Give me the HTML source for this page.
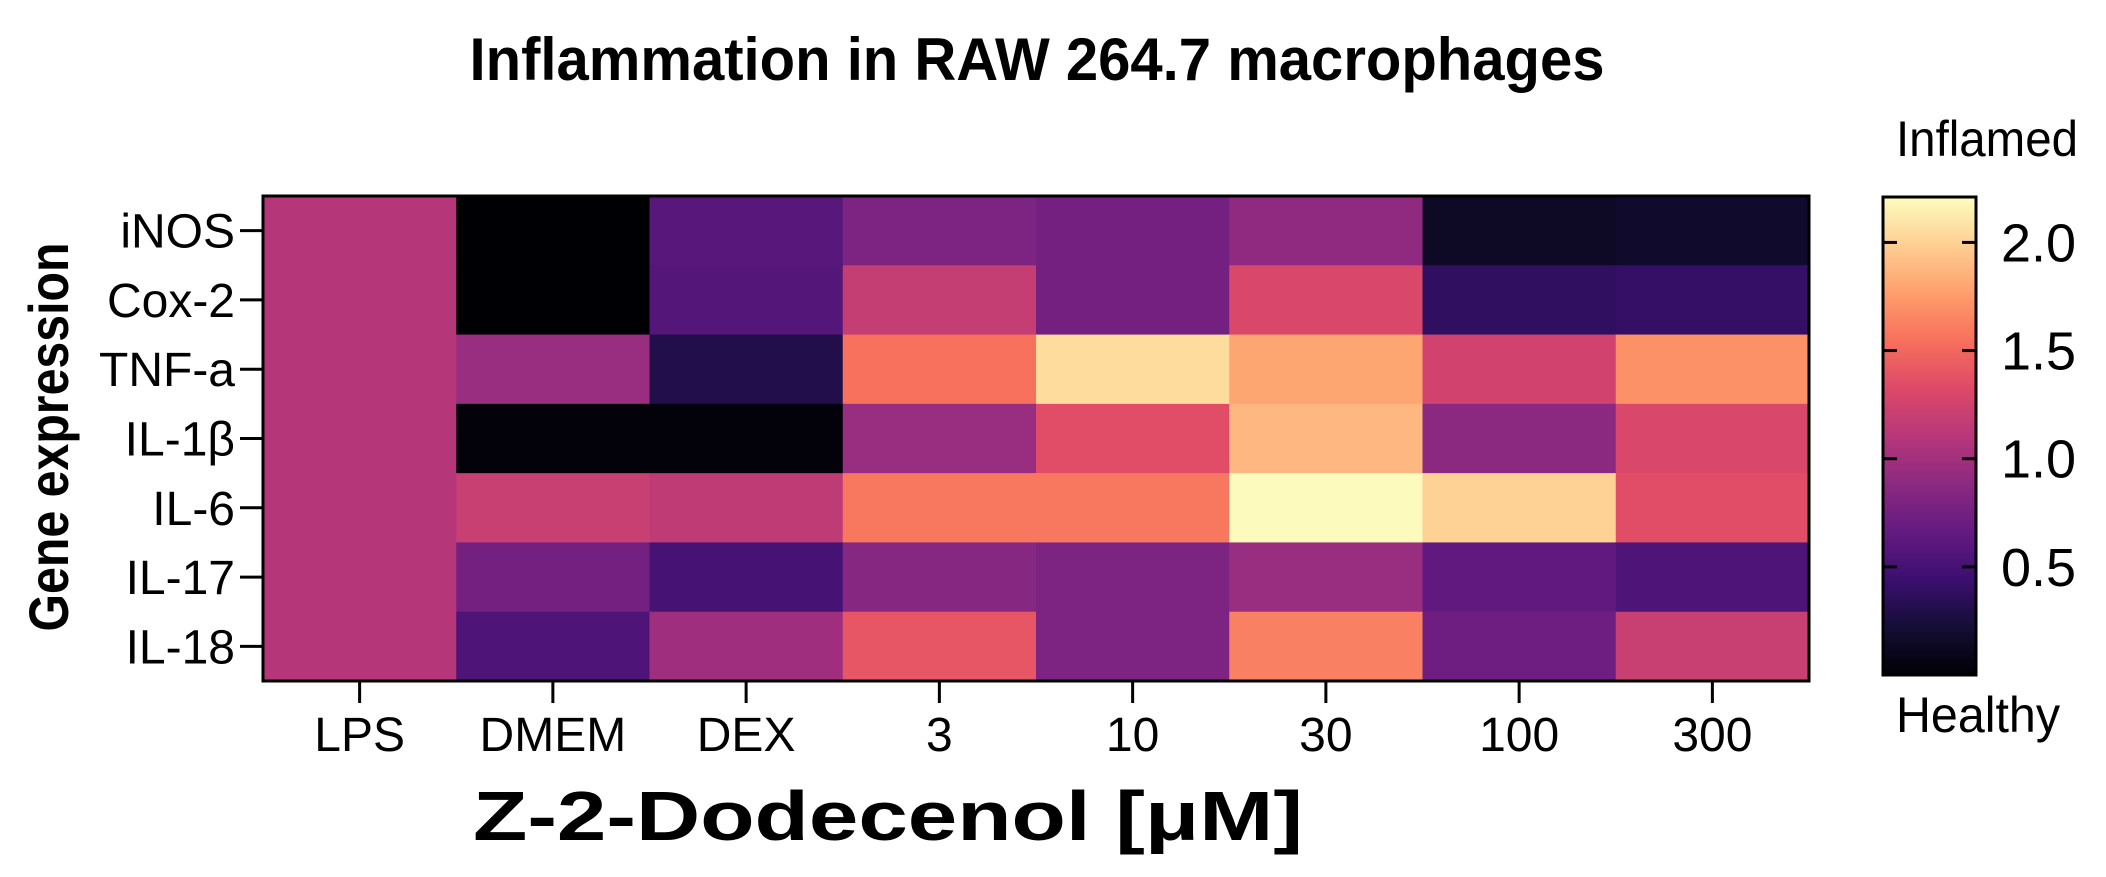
<!DOCTYPE html>
<html><head><meta charset="utf-8"><style>
html,body{margin:0;padding:0;background:#fff;}
svg{display:block;font-family:"Liberation Sans",Arial,sans-serif;}
</style></head><body>
<svg id="chart" width="2106" height="877" viewBox="0 0 2106 877">
<defs><linearGradient id="magma" x1="0" y1="1" x2="0" y2="0">
<stop offset="0" stop-color="#000004"/><stop offset="0.1" stop-color="#140e36"/><stop offset="0.2" stop-color="#3b0f70"/><stop offset="0.3" stop-color="#641a80"/><stop offset="0.4" stop-color="#8c2981"/><stop offset="0.5" stop-color="#b73779"/><stop offset="0.6" stop-color="#de4968"/><stop offset="0.7" stop-color="#f7705c"/><stop offset="0.8" stop-color="#fe9f6d"/><stop offset="0.9" stop-color="#fecf92"/><stop offset="1" stop-color="#fcfdbf"/>
</linearGradient></defs>
<text x="1037" y="80" font-size="60" font-weight="bold" text-anchor="middle" textLength="1135" lengthAdjust="spacingAndGlyphs">Inflammation in RAW 264.7 macrophages</text>
<text transform="translate(68,437) rotate(-90)" font-size="56" font-weight="bold" text-anchor="middle" textLength="389" lengthAdjust="spacingAndGlyphs">Gene expression</text>
<text x="888" y="840" font-size="70" font-weight="bold" text-anchor="middle" textLength="830" lengthAdjust="spacingAndGlyphs">Z-2-Dodecenol [μM]</text>
<g id="cells"></g><g id="axes"></g><g id="cbar"></g>
</svg>
<script>
const categories = ["LPS","DMEM","DEX","3","10","30","100","300"];
const genes = ["iNOS","Cox-2","TNF-a","IL-1β","IL-6","IL-17","IL-18"];
const iNOS  = [1.1, 0.0, 0.60, 0.80, 0.75, 0.90, 0.15, 0.18];
const cox2  = [1.1, 0.0, 0.58, 1.18, 0.75, 1.30, 0.38, 0.40];
const tnfa  = [1.1, 0.95, 0.30, 1.55, 2.05, 1.80, 1.25, 1.70];
const il1b  = [1.1, 0.03, 0.03, 0.95, 1.35, 1.88, 0.88, 1.30];
const il6   = [1.1, 1.20, 1.15, 1.58, 1.58, 2.20, 2.00, 1.35];
const il17  = [1.1, 0.75, 0.50, 0.85, 0.80, 0.95, 0.65, 0.55];
const il18  = [1.1, 0.55, 0.98, 1.40, 0.80, 1.62, 0.72, 1.20];
const values = [iNOS, cox2, tnfa, il1b, il6, il17, il18];
const cbarTicks = [0.5, 1.0, 1.5, 2.0];
const vmin = 0, vmax = 2.21;

const NS = "http://www.w3.org/2000/svg";
const L = 263, R = 1809, T = 196, B = 681;
const cw = (R - L) / categories.length, rh = (B - T) / genes.length;
const xPos = i => L + i * cw;
const yPos = j => T + j * rh;
const hex = ["#000004","#140e36","#3b0f70","#641a80","#8c2981","#b73779","#de4968","#f7705c","#fe9f6d","#fecf92","#fcfdbf"];
const stops = hex.map(h => [parseInt(h.substr(1,2),16), parseInt(h.substr(3,2),16), parseInt(h.substr(5,2),16)]);
function color(v){
  let t = Math.max(0, Math.min(1, (v - vmin) / (vmax - vmin))) * 10;
  const k = Math.min(9, Math.floor(t)), f = t - k;
  const a = stops[k], b = stops[k+1];
  return "rgb(" + [0,1,2].map(c => Math.round(a[c] + f * (b[c] - a[c]))).join(",") + ")";
}
function mk(tag, attrs, parent){
  const e = document.createElementNS(NS, tag);
  for (const k in attrs) e.setAttribute(k, attrs[k]);
  parent.appendChild(e);
  return e;
}
const cells = document.getElementById("cells");
values.forEach((row, j) => row.forEach((v, i) => {
  const r = mk("rect", {x: xPos(i), y: yPos(j), width: cw + 0.5, height: rh + 0.5, fill: color(v)}, cells);
  
  
}));
const axes = document.getElementById("axes");
const frame = mk("rect", {x: L, y: T, width: R - L, height: B - T, fill: "none", stroke: "#000", "stroke-width": 3}, axes);


genes.forEach((g, j) => {
  const yc = yPos(j) + rh / 2;
  mk("line", {x1: 240, x2: L, y1: yc, y2: yc, stroke: "#000", "stroke-width": 3}, axes);
  const t = mk("text", {x: 235, y: yc + 17, "font-size": 48, "text-anchor": "end"}, axes);
  t.textContent = g;
  
  
});
categories.forEach((c, i) => {
  const xc = xPos(i) + cw / 2;
  mk("line", {x1: xc, x2: xc, y1: B, y2: B + 22, stroke: "#000", "stroke-width": 3}, axes);
  const t = mk("text", {x: xc, y: 751, "font-size": 48, "text-anchor": "middle"}, axes);
  t.textContent = c;
  
  
});
const cb = document.getElementById("cbar");
const cL = 1883, cR = 1976, cT = 197, cB = 675;
const cy = v => cB - (v - vmin) / (vmax - vmin) * (cB - cT);
const bar = mk("rect", {x: cL, y: cT, width: cR - cL, height: cB - cT, fill: "url(#magma)", stroke: "#000", "stroke-width": 3}, cb);


cbarTicks.forEach(v => {
  const y = cy(v);
  mk("line", {x1: cL, x2: cL + 14, y1: y, y2: y, stroke: "#000", "stroke-width": 3}, cb);
  mk("line", {x1: cR - 14, x2: cR, y1: y, y2: y, stroke: "#000", "stroke-width": 3}, cb);
  const t = mk("text", {x: 2001, y: y + 19, "font-size": 54}, cb);
  t.textContent = v.toFixed(1);
  
  
});
const inf = mk("text", {x: 1896, y: 156, "font-size": 50, textLength: 182, lengthAdjust: "spacingAndGlyphs"}, cb);
inf.textContent = "Inflamed";


const hl = mk("text", {x: 1896, y: 732, "font-size": 50, textLength: 164, lengthAdjust: "spacingAndGlyphs"}, cb);
hl.textContent = "Healthy";


</script>
</body></html>
